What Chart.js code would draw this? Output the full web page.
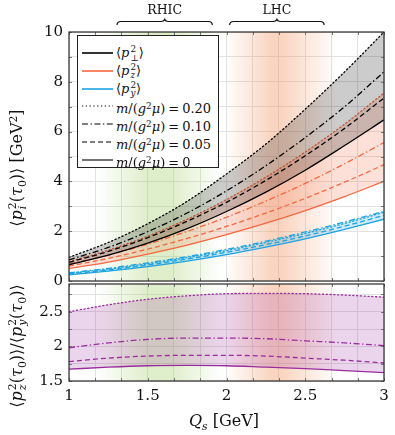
<!DOCTYPE html>
<html><head><meta charset="utf-8">
<script src="https://cdn.jsdelivr.net/npm/chart.js@4"></script>
<style>
body{margin:0;background:#fff;}
#wrap{position:relative;width:395px;height:435px;overflow:hidden;font-family:"DejaVu Serif",serif;color:#111;}
canvas{position:absolute;left:0;}
.lbl{position:absolute;white-space:nowrap;font-size:16px;line-height:1;}
.rot{transform:translate(-50%,-50%) rotate(-90deg);}
.ctr{transform:translate(-50%,-50%);}
.ss{display:inline-flex;flex-direction:column;vertical-align:middle;font-size:0.68em;line-height:0.95;margin-left:1px;text-align:left;}
.sb{vertical-align:-0.3em;font-size:0.68em;}
.sp{vertical-align:0.45em;font-size:0.68em;}
i{font-style:italic;}
#legend{position:absolute;left:77px;top:35px;width:140px;height:131px;border:1px solid #222;background:#fff;}
.row{position:absolute;left:0;height:18px;width:140px;font-size:13px;line-height:18px;}
.row svg{position:absolute;left:4px;top:6px;}
.row span.t{position:absolute;left:38px;top:0;white-space:nowrap;}
.eq{padding:0 3px;}
</style></head>
<body><div id="wrap">
<canvas id="c1" width="395" height="290" style="top:0;width:395px;height:290px"></canvas>
<canvas id="c2" width="395" height="153" style="top:282px;width:395px;height:153px"></canvas>
<div class="lbl rot" style="left:18px;top:168px;">⟨<i>p</i><span class="ss"><span>2</span><i>i</i></span>(<i>τ</i><span class="sb">0</span>)⟩ [GeV<span class="sp">2</span>]</div>
<div class="lbl rot" style="left:18px;top:346px;">⟨<i>p</i><span class="ss"><span>2</span><i>z</i></span>(<i>τ</i><span class="sb">0</span>)⟩/⟨<i>p</i><span class="ss"><span>2</span><i>y</i></span>(<i>τ</i><span class="sb">0</span>)⟩</div>
<div class="lbl ctr" style="left:224px;top:423px;"><i>Q</i><span class="sb"><i>s</i></span> [GeV]</div>
<div id="legend"></div>
</div>
<script>
// ---- data ----
const Q = [1, 1.25, 1.5, 1.75, 2, 2.25, 2.5, 2.75, 3];
const pPerp020 = [0.95, 1.55, 2.3, 3.2, 4.3, 5.5, 6.9, 8.4, 10.0];
const pPerp010 = [0.85, 1.35, 1.98, 2.73, 3.62, 4.63, 5.76, 7.0, 8.4];
const pPerp005 = [0.75, 1.19, 1.74, 2.4, 3.16, 4.04, 5.03, 6.13, 7.35];
const pPerp000 = [0.65, 1.04, 1.52, 2.1, 2.79, 3.57, 4.45, 5.44, 6.47];
const pZ020 = [0.78, 1.24, 1.8, 2.48, 3.27, 4.17, 5.18, 6.3, 7.55];
const pZ010 = [0.68, 1.04, 1.48, 1.99, 2.56, 3.21, 3.92, 4.71, 5.56];
const pZ005 = [0.6, 0.91, 1.28, 1.71, 2.19, 2.73, 3.32, 3.97, 4.67];
const pZ000 = [0.5, 0.76, 1.08, 1.44, 1.86, 2.32, 2.83, 3.39, 4.0];
const pY020 = [0.31, 0.48, 0.69, 0.94, 1.22, 1.55, 1.91, 2.31, 2.76];
const pY010 = [0.33, 0.51, 0.73, 0.98, 1.27, 1.6, 1.97, 2.37, 2.8];
const pY005 = [0.28, 0.44, 0.64, 0.88, 1.15, 1.46, 1.81, 2.2, 2.64];
const pY000 = [0.25, 0.4, 0.58, 0.8, 1.06, 1.36, 1.69, 2.07, 2.48];
const ratio020 = [2.5, 2.6, 2.68, 2.73, 2.76, 2.765, 2.76, 2.74, 2.71];
const ratio010 = [1.98, 2.05, 2.1, 2.12, 2.12, 2.11, 2.08, 2.05, 2.01];
const ratio005 = [1.78, 1.83, 1.86, 1.87, 1.87, 1.86, 1.83, 1.8, 1.76];
const ratio000 = [1.67, 1.7, 1.72, 1.725, 1.72, 1.7, 1.68, 1.65, 1.62];
const massLabels = ['0.20', '0.10', '0.05', '0'];
const xTickLabels = ['1', '1.5', '2', '2.5', '3'];
const yTickLabelsTop = ['0', '2', '4', '6', '8', '10'];
const yTickLabelsBottom = ['1.5', '2', '2.5'];
const rhicBandQ = [1.18, 1.5, 1.65, 1.97];
const rhicBandLevel = [0, 1, 1, 0];
const lhcBandQ = [1.99, 2.28, 2.36, 2.7];
const lhcBandLevel = [0, 1, 1, 0];
const braceNames = ['RHIC', 'LHC'];
const braceFrom = [1.305, 2.02];
const braceTo = [1.91, 2.62];

// ---- styles ----
const FONT = '"DejaVu Serif",serif';
const BLACK = '#000000', ORANGE = '#f4683f', BLUE = '#1ea3e3', PURPLE = '#9a2e9e';
const dashes = [[1.2, 2.6], [6, 2.5, 1.4, 2.5], [5, 3], []];
const pts = arr => Q.map((q, i) => ({x: q, y: arr[i]}));

function group(arrs, color, fillRGBA, fillFromIdx, fillTo) {
  return arrs.map((a, i) => ({
    data: pts(a), borderColor: color, borderWidth: 1.3, borderDash: dashes[i],
    borderCapStyle: i === 0 ? 'round' : 'butt',
    pointRadius: 0, cubicInterpolationMode: 'monotone',
    fill: i === fillFromIdx ? '+' + (fillTo - i) : false,
    backgroundColor: fillRGBA
  }));
}

const bandPlugin = {
  id: 'bands',
  beforeDatasetsDraw(chart) {
    const {ctx, chartArea: a, scales: {x}} = chart;
    ctx.save();
    ctx.beginPath(); ctx.rect(a.left, a.top, a.width, a.height); ctx.clip();
    const bands = [[rhicBandQ, rhicBandLevel, '160,205,100', 0.34], [lhcBandQ, lhcBandLevel, '240,140,85', 0.36]];
    for (const [qs, lv, rgb, al] of bands) {
      const x0 = x.getPixelForValue(qs[0]), x1 = x.getPixelForValue(qs[qs.length - 1]);
      const g = ctx.createLinearGradient(x0, 0, x1, 0);
      qs.forEach((q, i) => g.addColorStop((x.getPixelForValue(q) - x0) / (x1 - x0), `rgba(${rgb},${lv[i] * al})`));
      ctx.fillStyle = g; ctx.fillRect(x0, a.top, x1 - x0, a.height);
    }
    ctx.restore();
  }
};
const framePlugin = {
  id: 'frame',
  afterDraw(chart) {
    const {ctx, chartArea: a, scales: {x, y}} = chart;
    ctx.save();
    ctx.strokeStyle = '#777'; ctx.lineWidth = 1;
    ctx.beginPath();
    x.ticks.forEach(t => { const p = Math.round(x.getPixelForValue(t.value)) + 0.5;
      ctx.moveTo(p, a.top); ctx.lineTo(p, a.top + 3); ctx.moveTo(p, a.bottom); ctx.lineTo(p, a.bottom - 3); });
    y.ticks.forEach(t => { const p = Math.round(y.getPixelForValue(t.value)) + 0.5;
      ctx.moveTo(a.left, p); ctx.lineTo(a.left + 3, p); ctx.moveTo(a.right, p); ctx.lineTo(a.right - 3, p); });
    ctx.stroke();
    ctx.strokeStyle = '#2a2a2a'; ctx.lineWidth = 1.2;
    ctx.strokeRect(a.left, a.top, a.right - a.left, a.bottom - a.top);
    ctx.restore();
  }
};
const bracePlugin = {
  id: 'braces',
  afterDraw(chart) {
    const {ctx, scales: {x}} = chart;
    ctx.save();
    ctx.strokeStyle = '#111'; ctx.lineWidth = 1.2; ctx.fillStyle = '#111';
    ctx.font = '12.5px ' + FONT; ctx.textAlign = 'center'; ctx.textBaseline = 'middle';
    braceNames.forEach((name, i) => {
      const x0 = x.getPixelForValue(braceFrom[i]), x1 = x.getPixelForValue(braceTo[i]);
      const xm = (x0 + x1) / 2, yb = 25, yl = 21.5, yt = 18.5;
      ctx.beginPath();
      ctx.moveTo(x0, yb); ctx.quadraticCurveTo(x0, yl, x0 + 4, yl); ctx.lineTo(xm - 4, yl);
      ctx.quadraticCurveTo(xm, yl, xm, yt); ctx.quadraticCurveTo(xm, yl, xm + 4, yl);
      ctx.lineTo(x1 - 4, yl); ctx.quadraticCurveTo(x1, yl, x1, yb);
      ctx.stroke();
      ctx.fillText(name, xm, 10.5);
    });
    ctx.restore();
  }
};

const xTickVals = Array.from({length: 13}, (_, k) => 1 + k / 6);
function xScale(showLabels) {
  return {
    type: 'linear', min: 1, max: 3,
    afterBuildTicks: s => { s.ticks = xTickVals.map(v => ({value: v})); },
    afterFit: s => { s.height = showLabels ? 54 : 9; s.paddingLeft = 0; s.paddingRight = 0; },
    grid: {color: '#e2e2e2', drawTicks: false, lineWidth: 1},
    border: {display: false},
    ticks: {
      display: showLabels, padding: 6, maxRotation: 0, autoSkip: false,
      font: {family: FONT, size: 15}, color: '#111',
      callback: v => { const l = xTickLabels.find(t => Math.abs(parseFloat(t) - v) < 1e-6); return l === undefined ? '' : l; }
    }
  };
}
function yScale(min, max, step, labels) {
  const vals = []; for (let v = min; v <= max + 1e-9; v += step) vals.push(+v.toFixed(4));
  return {
    type: 'linear', min, max,
    afterBuildTicks: s => { s.ticks = vals.map(v => ({value: v})); },
    afterFit: s => { s.width = 69; s.paddingTop = 0; s.paddingBottom = 0; },
    grid: {color: '#e2e2e2', drawTicks: false, lineWidth: 1},
    border: {display: false},
    ticks: {
      padding: 6, autoSkip: false, font: {family: FONT, size: 15}, color: '#111',
      callback: v => { const l = labels.find(t => Math.abs(parseFloat(t) - v) < 1e-6); return l === undefined ? '' : l; }
    }
  };
}
const common = {
  responsive: false, animation: false, devicePixelRatio: 1,
  plugins: {legend: {display: false}, tooltip: {enabled: false}}
};

new Chart(document.getElementById('c1'), {
  type: 'line',
  data: {datasets: [
    ...group([pPerp020, pPerp010, pPerp005, pPerp000], BLACK, 'rgba(0,0,0,0.2)', 0, 3),
    ...group([pZ020, pZ010, pZ005, pZ000], ORANGE, 'rgba(244,104,63,0.2)', 0, 3),
    ...group([pY020, pY010, pY005, pY000], BLUE, 'rgba(30,163,227,0.22)', 1, 3)
  ]},
  options: {...common,
    layout: {padding: {top: 32, right: 11, left: 0, bottom: 0}},
    scales: {x: xScale(false), y: yScale(0, 10, 1, yTickLabelsTop)}
  },
  plugins: [bandPlugin, framePlugin, bracePlugin]
});

new Chart(document.getElementById('c2'), {
  type: 'line',
  data: {datasets: group([ratio020, ratio010, ratio005, ratio000], PURPLE, 'rgba(154,46,158,0.2)', 0, 3)},
  options: {...common,
    layout: {padding: {top: 2, right: 11, left: 0, bottom: 0}},
    scales: {x: xScale(true), y: yScale(1.5, 2.9, 0.25, yTickLabelsBottom)}
  },
  plugins: [bandPlugin, framePlugin]
});

// ---- legend (HTML, real text) ----
const legendColors = [BLACK, ORANGE, BLUE];
const legendSubs = ['⊥', 'z', 'y'];
const lg = document.getElementById('legend');
let html = '';
const rowTop = i => 8 + i * 17.8;
legendColors.forEach((c, i) => {
  html += `<div class="row" style="top:${rowTop(i)}px"><svg width="32" height="6"><line x1="0" y1="3" x2="31" y2="3" stroke="${c}" stroke-width="1.6"/></svg>` +
    `<span class="t">⟨<i>p</i><span class="ss"><span>2</span>${legendSubs[i] === '⊥' ? '<span>⊥</span>' : '<i>' + legendSubs[i] + '</i>'}</span>⟩</span></div>`;
});
massLabels.forEach((m, j) => {
  const d = dashes[j].length ? dashes[j].join(' ') : 'none';
  html += `<div class="row" style="top:${rowTop(j + 3)}px"><svg width="32" height="6"><line x1="0" y1="3" x2="31" y2="3" stroke="#000" stroke-width="1.1" stroke-dasharray="${d}"/></svg>` +
    `<span class="t"><i>m</i>/(<i>g</i><span class="sp">2</span><i>μ</i>)<span class="eq">=</span>${m}</span></div>`;
});
lg.innerHTML = html;
</script>
</body></html>
